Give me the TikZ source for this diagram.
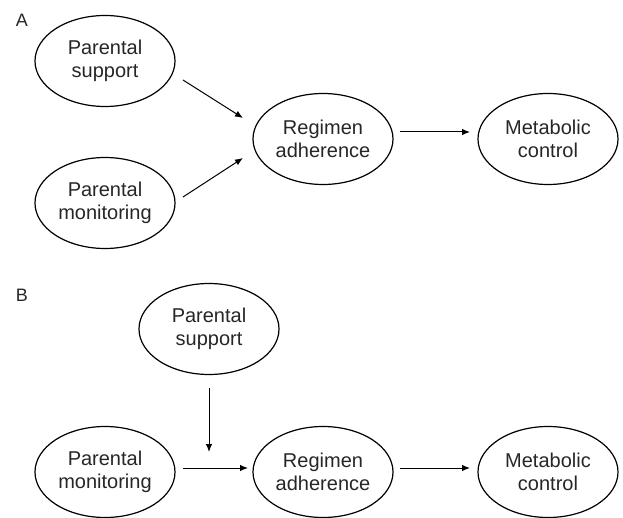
\documentclass[tikz,border=0pt]{standalone}
\usepackage{fontspec}
\setmainfont{Liberation Sans}
\usetikzlibrary{shapes.geometric,arrows.meta,calc}
\tikzset{
  oval/.style={ellipse, draw=black, line width=1.2pt, minimum width=140pt, minimum height=91pt, inner sep=0pt, align=center, font=\fontsize{20}{22.5}\selectfont, text=black!85},
  arr/.style={line width=1pt, -{Latex[length=8pt,width=6.5pt]}},
  panel/.style={font=\fontsize{18}{20}\selectfont, text=black!85}
}
\begin{document}
\begin{tikzpicture}[x=1pt,y=-1pt]
\useasboundingbox (0,0) rectangle (623,518);
% Panel A
\node[panel] (la) at (22,20) {A};
\node[oval] (ps) at (105,61) {Parental\\support};
\node[oval] (pm) at (105,203) {Parental\\monitoring};
\node[oval] (ra) at (323,139) {Regimen\\adherence};
\node[oval] (mc) at (548,139) {Metabolic\\control};
\draw[arr] ($(ps.center)+(78,19)$) -- ($(ra.center)+(-80,-21)$);
\draw[arr] ($(pm.center)+(78,-6)$) -- ($(ra.center)+(-80,19)$);
\draw[arr] ($(ra.center)+(77,-7)$) -- ($(mc.center)+(-78,-7)$);
% Panel B
\node[panel] (lb) at (22,295) {B};
\node[oval] (psb) at (209,329) {Parental\\support};
\node[oval] (pmb) at (105,472) {Parental\\monitoring};
\node[oval] (rb) at (323,472) {Regimen\\adherence};
\node[oval] (mcb) at (548,472) {Metabolic\\control};
\coordinate (mod) at ($(rb.center)+(-114,-20)$);
\draw[arr] ($(psb.center)+(0,59)$) -- (mod);
\draw[arr] ($(pmb.center)+(78,-4)$) -- ($(rb.center)+(-75,-4)$);
\draw[arr] ($(rb.center)+(77,-4)$) -- ($(mcb.center)+(-78,-4)$);
\end{tikzpicture}
\end{document}
